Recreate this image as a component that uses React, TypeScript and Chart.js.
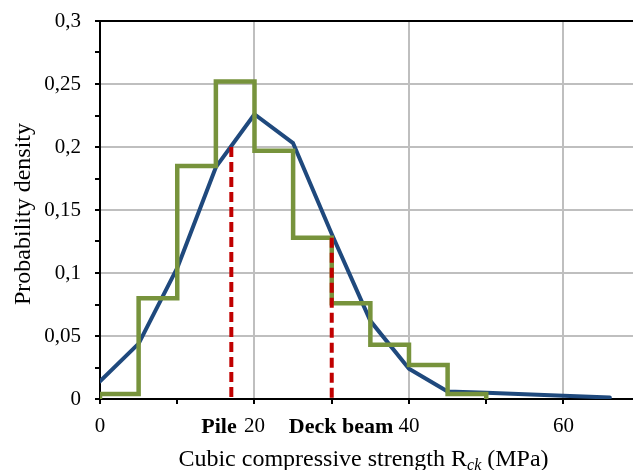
import React, { useEffect, useRef } from "react";
import { Chart, registerables } from "chart.js";

Chart.register(...registerables);

// Lognormal-like probability density curve (blue)
const strengthX = [0, 5, 10, 15, 20, 25, 30, 35, 40, 45, 50, 55, 60, 66];
const pdfValues = [0.014, 0.044, 0.104, 0.184, 0.226, 0.203, 0.131, 0.062, 0.024, 0.006, 0.005, 0.0037, 0.0025, 0.0012];

// Histogram (green step line)
const binEdges = [0, 5, 10, 15, 20, 25, 30, 35, 40, 45, 50];
const histValues = [0.004, 0.08, 0.185, 0.252, 0.197, 0.128, 0.076, 0.043, 0.027, 0.004];

// Characteristic strength markers (red dashed)
const markerNames = ["Pile", "Deck beam"];
const markerX = [17, 30];
const markerY = [0.2, 0.128];
const markerLabelX = [15.4, 31.2];

// Ticks
const xTicks = [0, 10, 20, 30, 40, 50, 60];
const xLabelled = [0, 20, 40, 60];
const yTicks = [0, 0.025, 0.05, 0.075, 0.1, 0.125, 0.15, 0.175, 0.2, 0.225, 0.25, 0.275, 0.3];
const yLabels = ["0", "", "0,05", "", "0,1", "", "0,15", "", "0,2", "", "0,25", "", "0,3"];

const SERIF = "'Liberation Serif', 'Times New Roman', serif";

export default function App() {
  const ref = useRef<HTMLCanvasElement | null>(null);

  useEffect(() => {
    if (!ref.current) return;

    const stepPoints: { x: number; y: number }[] = [{ x: binEdges[0], y: 0 }, { x: binEdges[0], y: histValues[0] }];
    for (let i = 1; i < histValues.length; i++) stepPoints.push({ x: binEdges[i], y: histValues[i] });
    stepPoints.push({ x: binEdges[binEdges.length - 1], y: 0 });

    const markerSets = markerX.map((mx, i) => ({
      type: "line" as const,
      label: markerNames[i],
      data: [{ x: mx, y: markerY[i] }, { x: mx, y: 0 }],
      borderColor: "#C00000",
      borderWidth: 4,
      borderDash: [10, 5],
      pointRadius: 0,
      order: 0,
    }));

    const titlesPlugin = {
      id: "titles",
      afterDraw(chart: any) {
        const ctx = chart.ctx;
        const area = chart.chartArea;
        const xs = chart.scales.x;
        ctx.save();
        ctx.fillStyle = "#000";
        // Y title
        ctx.save();
        ctx.translate(24, (area.top + area.bottom) / 2 + 4);
        ctx.rotate(-Math.PI / 2);
        ctx.font = `24px ${SERIF}`;
        ctx.textAlign = "center";
        ctx.textBaseline = "middle";
        ctx.fillText("Probability density", 0, 0);
        ctx.restore();

        // X title with subscript
        const p1 = "Cubic compressive strength R";
        const p2 = "ck";
        const p3 = " (MPa)";
        const f1 = `24px ${SERIF}`;
        const f2 = `italic 16px ${SERIF}`;
        ctx.font = f1;
        const w1 = ctx.measureText(p1).width;
        const w3 = ctx.measureText(p3).width;
        ctx.font = f2;
        const w2 = ctx.measureText(p2).width;
        const total = w1 + w2 + w3;
        const cx = (area.left + area.right) / 2 - 3;
        const x0 = cx - total / 2;
        const base = 466;
        ctx.textAlign = "left";
        ctx.textBaseline = "alphabetic";
        ctx.font = f1;
        ctx.fillText(p1, x0, base);
        ctx.font = f2;
        ctx.fillText(p2, x0 + w1, base + 4);
        ctx.font = f1;
        ctx.fillText(p3, x0 + w1 + w2, base);

        // Bold marker labels
        ctx.font = `bold 22px ${SERIF}`;
        ctx.textAlign = "center";
        markerNames.forEach((n, i) => {
          ctx.fillText(n, xs.getPixelForValue(markerLabelX[i]), 433);
        });
        ctx.restore();
      },
    };

    const chart = new Chart(ref.current, {
      type: "line",
      data: {
        datasets: [
          ...markerSets,
          {
            label: "Histogram",
            data: stepPoints,
            stepped: "before",
            borderColor: "#77933C",
            borderWidth: 4.5,
            pointRadius: 0,
            order: 1,
          },
          {
            label: "PDF",
            data: strengthX.map((x, i) => ({ x, y: pdfValues[i] })),
            borderColor: "#1F497D",
            borderWidth: 4,
            borderCapStyle: "round",
            borderJoinStyle: "round",
            pointRadius: 0,
            tension: 0,
            order: 2,
          },
        ] as any,
      },
      options: {
        animation: false,
        responsive: false,
        maintainAspectRatio: false,
        layout: { padding: { top: 21, right: 0, left: 0, bottom: 0 } },
        plugins: { legend: { display: false }, tooltip: { enabled: false } },
        scales: {
          x: {
            type: "linear",
            min: 0,
            max: 69,
            afterBuildTicks: (s: any) => {
              s.ticks = xTicks.map((v) => ({ value: v }));
            },
            afterFit: (s: any) => {
              s.height = 71;
              s.paddingLeft = 0;
              s.paddingRight = 0;
            },
            ticks: {
              autoSkip: false,
              maxRotation: 0,
              padding: 10,
              color: "#000",
              font: { family: SERIF, size: 21 },
              callback: (v: any) => (xLabelled.includes(Number(v)) ? String(v) : ""),
            },
            grid: {
              drawTicks: true,
              tickLength: 5,
              lineWidth: 2,
              color: (c: any) =>
                c.tick && xLabelled.includes(c.tick.value) && c.tick.value !== 0 ? "#BFBFBF" : "rgba(0,0,0,0)",
              tickColor: "#000",
              tickWidth: 2,
            },
            border: { display: true, color: "#000", width: 2 },
          },
          y: {
            type: "linear",
            min: 0,
            max: 0.3,
            afterBuildTicks: (s: any) => {
              s.ticks = yTicks.map((v) => ({ value: v }));
            },
            afterFit: (s: any) => {
              s.width = 100;
              s.paddingTop = 0;
              s.paddingBottom = 0;
            },
            ticks: {
              autoSkip: false,
              padding: 14,
              color: "#000",
              font: { family: SERIF, size: 21 },
              callback: (_v: any, i: number) => yLabels[i],
            },
            grid: {
              drawTicks: true,
              tickLength: 5,
              lineWidth: 2,
              color: (c: any) => {
                if (!c.tick) return "rgba(0,0,0,0)";
                const idx = yTicks.indexOf(c.tick.value);
                if (idx === yTicks.length - 1) return "#000";
                if (idx > 0 && yLabels[idx] !== "") return "#BFBFBF";
                return "rgba(0,0,0,0)";
              },
              tickColor: "#000",
              tickWidth: 2,
            },
            border: { display: true, color: "#000", width: 2 },
          },
        },
      },
      plugins: [titlesPlugin],
    });

    return () => chart.destroy();
  }, []);

  return (
    <div style={{ position: "absolute", left: 0, top: 0, width: 633, height: 470, overflow: "hidden", background: "#fff" }}>
      <canvas ref={ref} width={633} height={470} style={{ display: "block" }} />
    </div>
  );
}
